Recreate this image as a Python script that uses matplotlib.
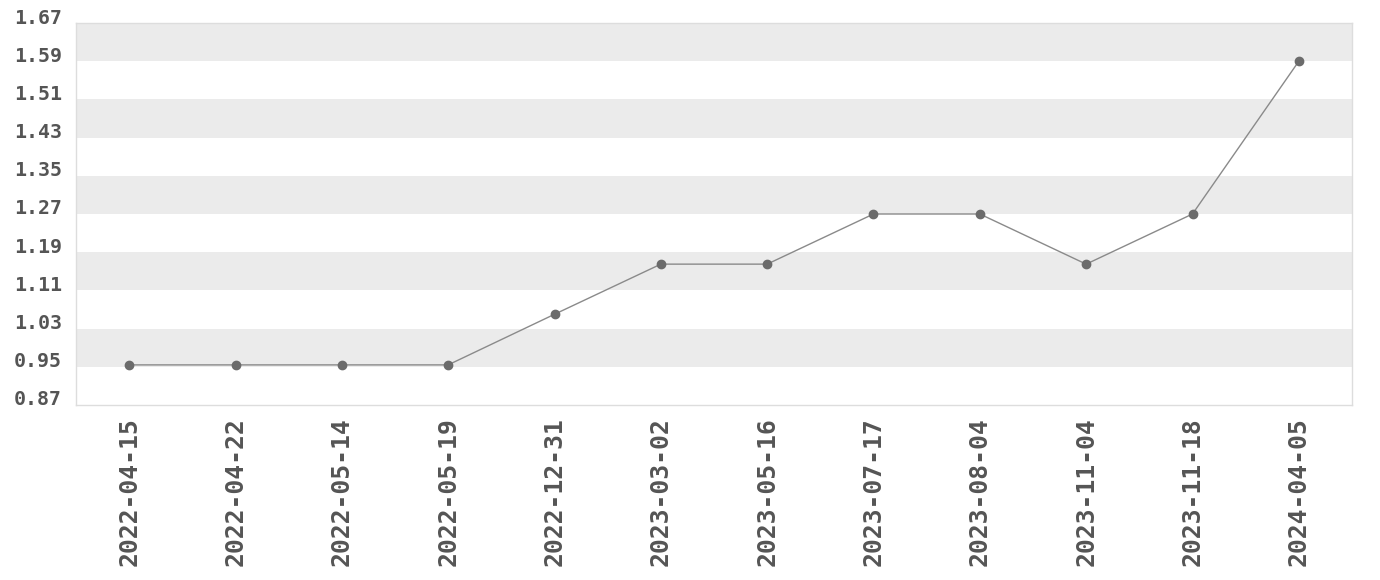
import matplotlib
matplotlib.use("Agg")
import matplotlib.pyplot as plt
import matplotlib.transforms as mtransforms

dates = ["2022-04-15", "2022-04-22", "2022-05-14", "2022-05-19", "2022-12-31",
         "2023-03-02", "2023-05-16", "2023-07-17", "2023-08-04", "2023-11-04",
         "2023-11-18", "2024-04-05"]
values = [0.954, 0.954, 0.954, 0.954, 1.06, 1.165, 1.165, 1.27, 1.27, 1.165, 1.27, 1.59]
yticks = [0.87, 0.95, 1.03, 1.11, 1.19, 1.27, 1.35, 1.43, 1.51, 1.59, 1.67]

fig = plt.figure(figsize=(13.8, 5.8), dpi=100)
ax = fig.add_axes([76/1380, 1 - 405/580, (1352-76)/1380, (405-23)/580])

x = list(range(len(dates)))
# alternating bands
for i in range(len(yticks) - 1):
    if (len(yticks) - 2 - i) % 2 == 0:
        ax.axhspan(yticks[i], yticks[i+1], color="#ebebeb", zorder=0, lw=0)

ax.plot(x, values, color="#8a8a8a", lw=1.0, zorder=2)
ax.plot(x, values, "o", color="#6b6b6b", ms=6, zorder=3)

ax.set_xlim(-0.5, len(dates) - 0.5)
ax.set_ylim(yticks[0], yticks[-1])
ax.set_yticks(yticks)
ax.set_yticklabels([f"{v:.2f}" for v in yticks])
ax.set_xticks(x)
ax.set_xticklabels(dates, rotation=90)

ax.tick_params(axis="both", length=0, colors="#555555")
ax.tick_params(axis="y", pad=10)
ax.tick_params(axis="x", pad=9)
for lab in ax.get_yticklabels():
    lab.set_fontfamily("DejaVu Sans Mono")
    lab.set_fontweight("bold")
    lab.set_fontsize(14.3)
    lab.set_transform(lab.get_transform() + mtransforms.ScaledTranslation(0, 7/100, fig.dpi_scale_trans))
for lab in ax.get_xticklabels():
    lab.set_fontfamily("DejaVu Sans Mono")
    lab.set_fontweight("bold")
    lab.set_fontsize(17.8)

for s in ax.spines.values():
    s.set_color("#dddddd")
    s.set_linewidth(1)

fig.savefig("out.png", dpi=100)
